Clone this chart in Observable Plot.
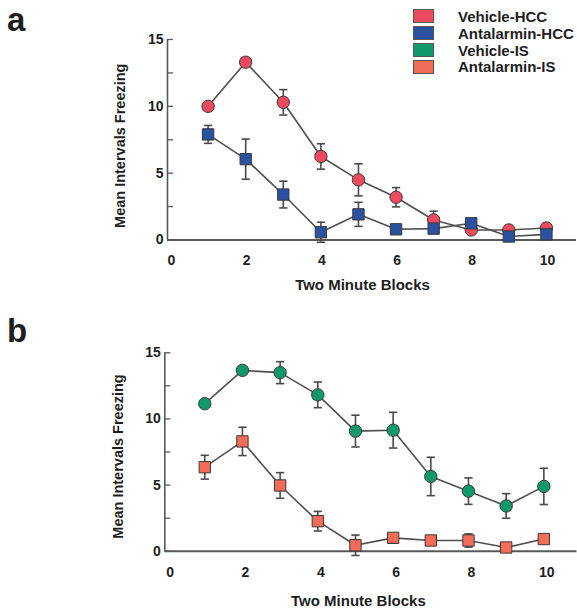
<!DOCTYPE html>
<html>
<head>
<meta charset="utf-8">
<script src="https://cdn.jsdelivr.net/npm/d3@7"></script>
<script src="https://cdn.jsdelivr.net/npm/@observablehq/plot@0.6"></script>
<style>
  html, body { margin: 0; padding: 0; background: #fff; }
  #root { position: relative; width: 577px; height: 614px; overflow: hidden;
          font-family: "Liberation Sans", Arial, Helvetica, sans-serif; color: #1e1e1e; }
  .panel { position: absolute; left: 0; }
  .letter { position: absolute; font-weight: bold; font-size: 33px; line-height: 1; }
  .legend { position: absolute; left: 413px; top: 8px; }
  .legend .row { display: flex; align-items: center; height: 16.8px; }
  .legend .sw { width: 19px; height: 12px; border: 1px solid #555; margin-right: 24px; }
  .legend .lab { font-weight: bold; font-size: 15px; }
</style>
</head>
<body>
<div id="root"></div>
<script>
// ---- data ----
const blocks = [1, 2, 3, 4, 5, 6, 7, 8, 9, 10];
const seriesNames = ["Vehicle-HCC", "Antalarmin-HCC", "Vehicle-IS", "Antalarmin-IS"];
const seriesColors = ["#ec4a5e", "#2b52a0", "#12996b", "#f26c58"];

const vehicleHCC = [10.0, 13.3, 10.3, 6.25, 4.5, 3.2, 1.5, 0.75, 0.75, 0.9];
const vehicleHCCErr = [0, 0, 0.95, 0.95, 1.2, 0.72, 0.65, 0, 0, 0];
const antalarminHCC = [7.9, 6.05, 3.4, 0.58, 1.92, 0.8, 0.85, 1.25, 0.26, 0.42];
const antalarminHCCErr = [0.67, 1.5, 1.0, 0.75, 0.9, 0, 0, 0.35, 0, 0];

const vehicleIS = [11.15, 13.67, 13.5, 11.82, 9.08, 9.15, 5.65, 4.54, 3.42, 4.9];
const vehicleISErr = [0, 0, 0.83, 0.97, 1.2, 1.35, 1.45, 1.0, 0.93, 1.37];
const antalarminIS = [6.35, 8.3, 4.97, 2.27, 0.45, 1.01, 0.81, 0.81, 0.28, 0.92];
const antalarminISErr = [0.9, 1.07, 0.97, 0.74, 0.77, 0, 0, 0.5, 0, 0];

const xTicks = [0, 2, 4, 6, 8, 10];
const yTicks = [0, 2.5, 5, 7.5, 10, 12.5, 15];
const yLabels = [0, 5, 10, 15];
const xTitle = "Two Minute Blocks";
const yTitle = "Mean Intervals Freezing";

// ---- helpers ----
const rows = (vals, errs) => blocks.map((b, i) => ({x: b, y: vals[i], e: errs[i]}));
const FONT = '"Liberation Sans", Arial, Helvetica, sans-serif';
const AXIS = "#585858";
const INK = "#1e1e1e";

function panel(cfg) {
  const {top, height, mt, mb, ml, mr, xDomain, tickDx, labPad, xTitleDx, xTitleDy, yTitleDx, yTitleDy, series} = cfg;
  const marks = [
    Plot.ruleY([0], {stroke: AXIS, strokeWidth: 2}),
    Plot.ruleX([xDomain[0]], {y1: 0, y2: 15, stroke: AXIS, strokeWidth: 1.6}),
    Plot.axisY({ticks: yTicks, tickSize: 6, dx: 6, tickFormat: () => "", stroke: AXIS, strokeWidth: 1.3, label: null}),
    Plot.axisY({ticks: yLabels, tickSize: 0, tickPadding: 4, fontSize: 14, fontWeight: "bold", fill: INK, label: null}),
    Plot.axisX({ticks: xTicks, tickSize: 0, tickPadding: labPad, dx: tickDx, fontSize: 14, fontWeight: "bold", fill: INK, label: null}),
    Plot.text([xTitle], {frameAnchor: "bottom", textAnchor: "middle", dx: xTitleDx, dy: xTitleDy, fontSize: 15, fontWeight: "bold", fill: INK}),
    Plot.text([yTitle], {frameAnchor: "left", textAnchor: "middle", lineAnchor: "middle", rotate: -90, dx: yTitleDx, dy: yTitleDy, fontSize: 14.5, fontWeight: "bold", fill: INK})
  ];
  for (const s of series) {
    marks.push(Plot.line(s.data, {x: "x", y: "y", stroke: "#4f4f4f", strokeWidth: 1.6}));
  }
  for (const s of series) {
    const eb = s.data.filter(d => d.e > 0);
    marks.push(Plot.ruleX(eb, {x: "x", y1: d => d.y - d.e, y2: d => d.y + d.e, stroke: "#4a4a4a", strokeWidth: 1.6}));
    marks.push(Plot.link(eb, {x1: d => d.x - 0.11, x2: d => d.x + 0.11, y1: d => d.y + d.e, y2: d => d.y + d.e, stroke: "#4a4a4a", strokeWidth: 1.6}));
    marks.push(Plot.link(eb, {x1: d => d.x - 0.11, x2: d => d.x + 0.11, y1: d => d.y - d.e, y2: d => d.y - d.e, stroke: "#4a4a4a", strokeWidth: 1.6}));
  }
  for (const s of series) {
    marks.push(Plot.dot(s.data, {x: "x", y: "y", symbol: s.symbol, r: s.symbol === "square" ? 6.4 : 6.2,
      fill: s.color, stroke: "#3a3a3a", strokeWidth: 1}));
  }
  const chart = Plot.plot({
    width: 577, height,
    marginTop: mt, marginBottom: mb, marginLeft: ml, marginRight: mr,
    style: {fontFamily: FONT, background: "transparent", color: INK, overflow: "visible"},
    x: {domain: xDomain},
    y: {domain: [0, 15]},
    marks
  });
  chart.classList.add("panel");
  chart.style.top = top + "px";
  return chart;
}

const root = document.getElementById("root");

root.appendChild(panel({
  top: 0, height: 300, mt: 39, mb: 60.5, ml: 167, mr: 1,
  xDomain: [-0.08, 10.8], tickDx: 1, labPad: 15,
  xTitleDx: -9.5, xTitleDy: 49.5, yTitleDx: -47, yTitleDy: 6,
  series: [
    {data: rows(vehicleHCC, vehicleHCCErr), color: seriesColors[0], symbol: "circle"},
    {data: rows(antalarminHCC, antalarminHCCErr), color: seriesColors[1], symbol: "square"}
  ]
}));

root.appendChild(panel({
  top: 300, height: 314, mt: 52.3, mb: 63.3, ml: 164.3, mr: 0.5,
  xDomain: [-0.061, 10.88], tickDx: 3, labPad: 15.5,
  xTitleDx: -12.5, xTitleDy: 55, yTitleDx: -46, yTitleDy: 4.5,
  series: [
    {data: rows(vehicleIS, vehicleISErr), color: seriesColors[2], symbol: "circle"},
    {data: rows(antalarminIS, antalarminISErr), color: seriesColors[3], symbol: "square"}
  ]
}));

// panel letters
for (const [t, top] of [["a", 3], ["b", 314]]) {
  const d = document.createElement("div");
  d.className = "letter"; d.textContent = t;
  d.style.left = "7px"; d.style.top = top + "px";
  root.appendChild(d);
}

// legend
const lg = document.createElement("div");
lg.className = "legend";
seriesNames.forEach((n, i) => {
  const r = document.createElement("div"); r.className = "row";
  const sw = document.createElement("div"); sw.className = "sw"; sw.style.background = seriesColors[i];
  const lb = document.createElement("div"); lb.className = "lab"; lb.textContent = n;
  r.appendChild(sw); r.appendChild(lb); lg.appendChild(r);
});
root.appendChild(lg);
</script>
</body>
</html>
